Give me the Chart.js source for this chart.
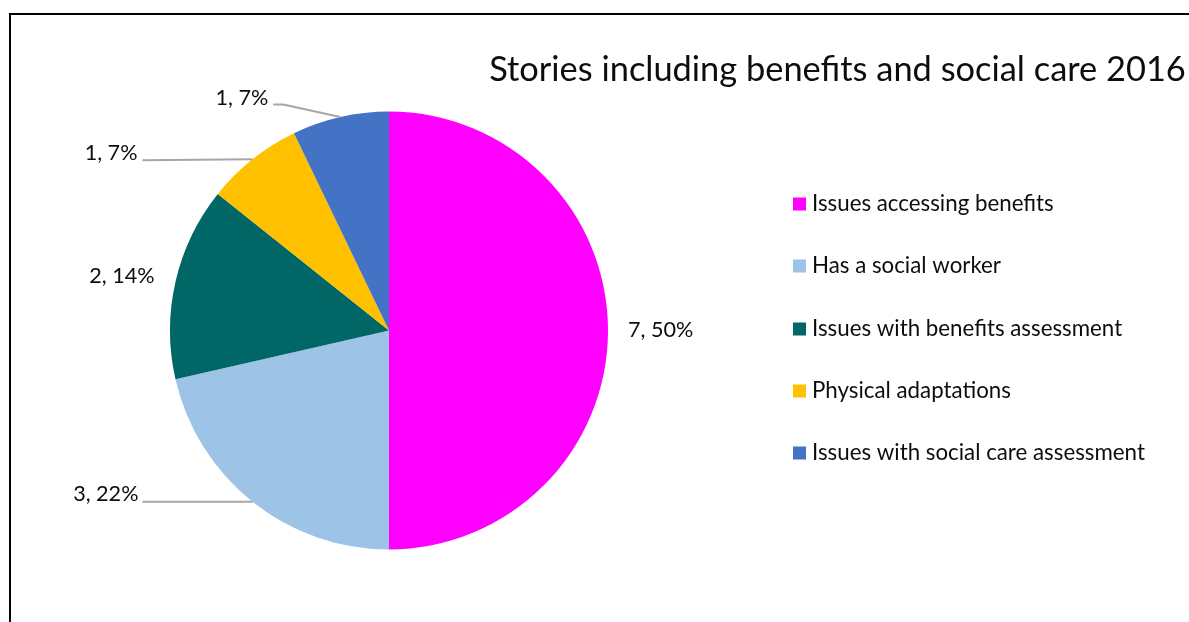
<!DOCTYPE html>
<html>
<head>
<meta charset="utf-8">
<script src="https://cdn.jsdelivr.net/npm/chart.js@4.4.1/dist/chart.umd.min.js"></script>
<style>
  html, body { margin: 0; padding: 0; background: #ffffff; overflow: hidden; }
  #wrap { position: relative; width: 1189px; height: 622px; }
</style>
</head>
<body>
<div id="wrap"><canvas id="c" width="1189" height="622"></canvas></div>
<script>
// Story counts per topic
const categories = [
  'Issues accessing benefits',
  'Has a social worker',
  'Issues with benefits assessment',
  'Physical adaptations',
  'Issues with social care assessment'
];
const storyCounts = [7, 3, 2, 1, 1];
const percentLabels = ['50%', '22%', '14%', '7%', '7%'];
const sliceColors = ['#FF00FF', '#9DC3E6', '#006666', '#FFC000', '#4472C4'];
const chartTitle = 'Stories including benefits and social care 2016';

// Label placement relative to the outer edge of each slice (at its mid-angle)
const labelOffsets = [
  { dx: 20,   dy: 0,    align: 'left',  leader: [] },
  { dx: -114, dy: -8,   align: 'right', leader: [[-110, 0]] },
  { dx: -21,  dy: -6,   align: 'right', leader: [] },
  { dx: -115, dy: -6,   align: 'right', leader: [[-110, 1]] },
  { dx: -72,  dy: -18.5, align: 'right', leader: [[-57, -12.5], [-67, -12.5]] }
];

const FONT = 'Lato, "Open Sans", sans-serif';

const framePlugin = {
  id: 'frame',
  beforeDraw(chart) {
    const ctx = chart.ctx;
    ctx.save();
    ctx.fillStyle = '#ffffff';
    ctx.fillRect(0, 0, chart.width, chart.height);
    ctx.strokeStyle = '#000000';
    ctx.lineWidth = 2;
    ctx.beginPath();
    ctx.moveTo(10, chart.height);
    ctx.lineTo(10, 14);
    ctx.lineTo(chart.width, 14);
    ctx.stroke();
    ctx.restore();
  }
};

const annotatePlugin = {
  id: 'annotate',
  afterDraw(chart) {
    const ctx = chart.ctx;
    const meta = chart.getDatasetMeta(0);
    ctx.save();

    // data labels with leader lines
    meta.data.forEach((arc, i) => {
      const p = arc.getProps(['x', 'y', 'startAngle', 'endAngle', 'outerRadius'], true);
      const mid = (p.startAngle + p.endAngle) / 2;
      const ex = p.x + p.outerRadius * Math.cos(mid);
      const ey = p.y + p.outerRadius * Math.sin(mid);
      const lay = labelOffsets[i];
      if (lay.leader.length) {
        ctx.strokeStyle = '#A6A6A6';
        ctx.lineWidth = 2;
        ctx.beginPath();
        ctx.moveTo(ex, ey);
        lay.leader.forEach(([dx, dy]) => ctx.lineTo(ex + dx, ey + dy));
        ctx.stroke();
      }
      ctx.fillStyle = '#0d0d0d';
      ctx.font = '21.6px ' + FONT;
      ctx.textAlign = lay.align;
      ctx.textBaseline = 'middle';
      ctx.fillText(storyCounts[i] + ', ' + percentLabels[i], ex + lay.dx, ey + lay.dy);
    });

    // title
    ctx.fillStyle = '#0d0d0d';
    ctx.font = '34.4px ' + FONT;
    ctx.textAlign = 'center';
    ctx.textBaseline = 'middle';
    ctx.fillText(chartTitle, 837.5, 70);

    // legend
    const rowY = [204, 266, 329, 391, 453];
    ctx.font = '22.3px ' + FONT;
    ctx.textAlign = 'left';
    categories.forEach((name, i) => {
      ctx.fillStyle = sliceColors[i];
      ctx.fillRect(793, rowY[i] - 6.5, 13, 13);
      ctx.fillStyle = '#0d0d0d';
      ctx.fillText(name, 812, rowY[i]);
    });
    ctx.restore();
  }
};

new Chart(document.getElementById('c'), {
  type: 'pie',
  data: {
    labels: categories,
    datasets: [{
      data: storyCounts,
      backgroundColor: sliceColors,
      borderWidth: 0
    }]
  },
  options: {
    responsive: false,
    animation: false,
    layout: { padding: { left: 170, right: 581, top: 111, bottom: 72 } },
    plugins: {
      legend: { display: false },
      title: { display: false },
      tooltip: { enabled: false }
    }
  },
  plugins: [framePlugin, annotatePlugin]
});
</script>
</body>
</html>
